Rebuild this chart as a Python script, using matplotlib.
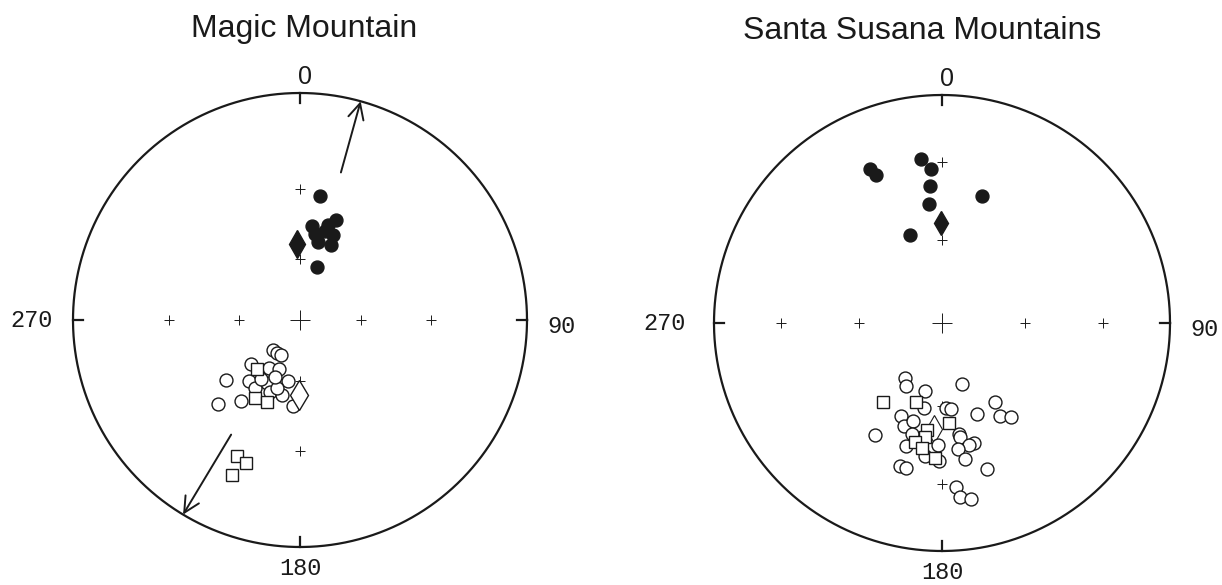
import numpy as np
import matplotlib.pyplot as plt

# --- Magic Mountain (left net) ---
mm_down_dec = [9.4, 7.1, 16.6, 19.6, 21.1, 13.1, 22.4, 9.9, 17.9, 15.7]
mm_down_inc = [32.2, 44.6, 42.6, 40.0, 46.1, 51.0, 50.5, 48.0, 62.6, 45.9]
mm_mean_down = [358.0, 53.0]

mm_up_dec = [222.3, 214.5, 207.7, 228.1, 212.5, 202.9, 230.7, 220.0, 208.0, 191.1,
             213.3, 202.2, 193.3, 224.2, 215.9, 184.8, 213.6, 199.0, 203.7]
mm_up_inc = [-69.6, -70.1, -70.0, -57.8, -61.8, -63.4, -44.4, -51.6, -55.2, -59.2,
             -50.4, -52.0, -52.6, -35.4, -42.5, -48.4, -55.4, -54.8, -59.4]
mm_sq_dec = [220.9, 209.9, 202.2, 204.9, 200.7, 203.7]
mm_sq_inc = [-57.9, -46.6, -47.4, -23.0, -22.2, -16.6]
mm_mean_up = [180.5, -53.4]

mm_arrow_dec = [15.5, 211.0]
mm_arrow_inc = [22.0, 29.0]

# --- Santa Susana Mountains (right net) ---
ss_down_dec = [352.8, 355.9, 334.8, 336.1, 355.0, 353.6, 17.6, 340.3]
ss_down_inc = [28.4, 32.6, 26.4, 29.7, 39.5, 46.4, 41.2, 56.2]
ss_mean_down = [359.5, 53.9]

ss_up_dec = [213.7, 209.4, 194.1, 162.1, 192.2, 177.5, 173.8, 146.1, 148.2, 143.7,
             159.2, 203.9, 200.4, 196.4, 211.0, 195.1, 196.4, 182.0, 171.1, 170.9,
             165.3, 167.7, 172.8, 170.2, 196.5, 194.1, 162.8, 187.5, 175.2, 174.2,
             170.5, 181.3]
ss_up_inc = [-66.2, -64.0, -64.9, -66.9, -58.8, -59.5, -58.8, -55.7, -50.3, -47.6,
             -54.7, -53.2, -50.0, -53.2, -42.1, -48.1, -43.0, -45.4, -49.1, -48.2,
             -44.6, -44.3, -43.6, -39.3, -35.0, -34.8, -33.5, -40.9, -28.5, -24.2,
             -23.0, -39.4]
ss_sq_dec = [217.0, 198.2, 176.0, 188.2, 188.5, 192.7, 188.9, 183.1]
ss_sq_inc = [-54.3, -60.1, -53.7, -50.8, -48.3, -45.6, -43.9, -40.5]
ss_mean_up = [184.4, -51.4]

grid_inc = [60, 30]
axis_dec = [0, 90, 180, 270]


def stereo(dec, inc):
    d = np.radians(np.asarray(dec, float))
    i = np.radians(np.abs(np.asarray(inc, float)))
    r = np.tan((np.pi / 2 - i) / 2)
    return r * np.sin(d), r * np.cos(d)


def eqarea(dec, inc):
    d = np.radians(np.asarray(dec, float))
    i = np.radians(np.abs(np.asarray(inc, float)))
    r = np.sqrt(2) * np.sin((np.pi / 2 - i) / 2)
    return r * np.sin(d), r * np.cos(d)


fig = plt.figure(figsize=(12.22, 5.85), dpi=100, facecolor='white')
ink = '#1a1a1a'
mono = ['Liberation Mono', 'DejaVu Sans Mono']
sans = ['Liberation Sans', 'DejaVu Sans']


def draw_net(ax, proj, title, title_x, lab270_x, lab90_x):
    ax.set_axis_off()
    t = np.linspace(0, 2 * np.pi, 400)
    ax.plot(np.cos(t), np.sin(t), color=ink, lw=1.6, zorder=2)
    # short ticks at N E S W
    for d in axis_dec:
        a = np.radians(d)
        ax.plot([0.955 * np.sin(a), np.sin(a)], [0.955 * np.cos(a), np.cos(a)],
                color=ink, lw=1.6, zorder=2)
    # grid crosses
    ax.plot([0], [0], marker='+', ms=15, mew=0.7, color=ink, ls='none', zorder=2)
    for gi in grid_inc:
        x, y = proj(axis_dec, [gi] * 4)
        ax.plot(x, y, marker='+', ms=7, mew=0.7, color=ink, ls='none', zorder=2)
    ax.text(title_x, 1.245, title, ha='center', va='baseline', fontsize=23,
            family=sans, color=ink)
    ax.text(0.02, 1.07, '0', ha='center', va='center', fontsize=18, family=sans, color=ink)
    ax.text(0.0, -1.095, '180', ha='center', va='center', fontsize=17, family=mono, color=ink)
    ax.text(lab270_x, 0.0, '270', ha='center', va='center', fontsize=17, family=mono, color=ink)
    ax.text(lab90_x, -0.03, '90', ha='center', va='center', fontsize=17, family=mono, color=ink)


# left net: centre (300, 320) px, radius 227 px
ax1 = fig.add_axes([0, 0, 0.5, 1])
ax1.set_xlim(-300 / 227, 311 / 227)
ax1.set_ylim(-265 / 227, 320 / 227)
draw_net(ax1, stereo, 'Magic Mountain', 0.02, -1.183, 1.154)

x, y = stereo(mm_up_dec, mm_up_inc)
ax1.plot(x, y, 'o', ms=9.3, mfc='white', mec=ink, mew=1.0, zorder=3)
x, y = stereo(mm_sq_dec, mm_sq_inc)
ax1.plot(x, y, 's', ms=8, mfc='white', mec=ink, mew=1.0, zorder=4)
x, y = stereo([mm_mean_up[0]], [mm_mean_up[1]])
ax1.plot(x, y, 'd', ms=15, mfc='white', mec=ink, mew=1.0, zorder=5)
x, y = stereo(mm_down_dec, mm_down_inc)
ax1.plot(x, y, 'o', ms=9.3, mfc=ink, mec=ink, zorder=3)
x, y = stereo([mm_mean_down[0]], [mm_mean_down[1]])
ax1.plot(x, y, 'd', ms=14, mfc=ink, mec=ink, zorder=4)
for d, i in zip(mm_arrow_dec, mm_arrow_inc):
    xs, ys = stereo([d, d], [i, 0])
    ax1.annotate('', xy=(xs[1], ys[1]), xytext=(xs[0], ys[0]),
                 arrowprops=dict(arrowstyle='->', lw=1.4, color=ink,
                                 mutation_scale=28, shrinkA=0, shrinkB=0))

# right net: centre (942, 323) px, radius 228 px
ax2 = fig.add_axes([0.5, 0, 0.5, 1])
ax2.set_xlim((611 - 942) / 228, (1222 - 942) / 228)
ax2.set_ylim(-262 / 228, 323 / 228)
draw_net(ax2, eqarea, 'Santa Susana Mountains', -0.088, -1.217, 1.153)

x, y = eqarea([ss_mean_up[0]], [ss_mean_up[1]])
ax2.plot(x, y, 'd', ms=14, mfc='white', mec=ink, mew=0.8, zorder=3)
x, y = eqarea(ss_up_dec, ss_up_inc)
ax2.plot(x, y, 'o', ms=9.3, mfc='white', mec=ink, mew=1.0, zorder=4)
x, y = eqarea(ss_sq_dec, ss_sq_inc)
ax2.plot(x, y, 's', ms=8.5, mfc='white', mec=ink, mew=1.0, zorder=5)
x, y = eqarea(ss_down_dec, ss_down_inc)
ax2.plot(x, y, 'o', ms=9.3, mfc=ink, mec=ink, zorder=3)
x, y = eqarea([ss_mean_down[0]], [ss_mean_down[1]])
ax2.plot(x, y, 'd', ms=12.5, mfc=ink, mec=ink, zorder=4)

fig.savefig('out.png', dpi=100, facecolor='white')
